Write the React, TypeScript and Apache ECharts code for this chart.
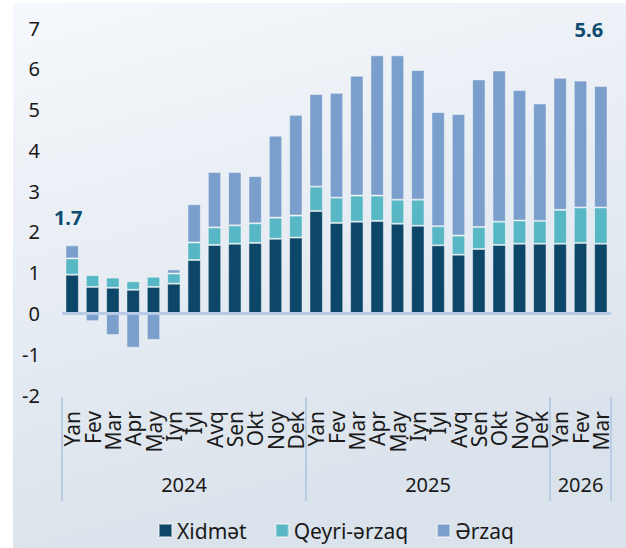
import React, { useEffect, useRef } from "react";
import * as echarts from "echarts";

const months = ["Yan", "Fev", "Mar", "Apr", "May", "İyn", "İyl", "Avq", "Sen", "Okt", "Noy", "Dek"];
const years = ["2024", "2025", "2026"];
const categories: string[] = [
  ...months.map((m) => "2024-" + m),
  ...months.map((m) => "2025-" + m),
  ...months.slice(0, 3).map((m) => "2026-" + m),
];
const xidmet = [0.95, 0.65, 0.63, 0.58, 0.65, 0.73, 1.31, 1.68, 1.71, 1.73, 1.83, 1.86, 2.51, 2.22, 2.25, 2.27, 2.2, 2.15, 1.67, 1.44, 1.58, 1.68, 1.71, 1.71, 1.71, 1.73, 1.71];
const qeyriErzaq = [0.4, 0.29, 0.25, 0.21, 0.25, 0.25, 0.43, 0.43, 0.45, 0.48, 0.52, 0.54, 0.6, 0.62, 0.64, 0.62, 0.59, 0.64, 0.47, 0.47, 0.54, 0.57, 0.57, 0.56, 0.83, 0.87, 0.89];
const erzaq = [0.32, -0.19, -0.53, -0.84, -0.65, 0.1, 0.94, 1.36, 1.31, 1.16, 2.01, 2.47, 2.27, 2.57, 2.94, 3.44, 3.54, 3.18, 2.8, 2.98, 3.62, 3.71, 3.2, 2.88, 3.24, 3.11, 2.98];
const yTicks = { min: -2, max: 7, interval: 1 };

const FONT = "Noto Sans";
const total = (i: number) => (xidmet[i] + qeyriErzaq[i] + erzaq[i]).toFixed(1);

export default function App() {
  const ref = useRef<HTMLDivElement>(null);
  useEffect(() => {
    const chart = echarts.init(ref.current!, undefined, { renderer: "svg" });
    const last = categories.length - 1;
    const border = { borderColor: "rgba(255,255,255,0.45)", borderWidth: 1 };
    chart.setOption({
      animation: false,
      backgroundColor: {
        type: "linear", x: 0, y: 0, x2: 0.3, y2: 1,
        colorStops: [
          { offset: 0, color: "#f5f8fc" },
          { offset: 1, color: "#dae2eb" },
        ],
      },
      textStyle: { fontFamily: FONT },
      grid: { left: 49, right: 15, top: 25, bottom: 153 },
      legend: {
        left: 140,
        top: 512,
        itemWidth: 13,
        itemHeight: 13,
        itemGap: 28,
        icon: "rect",
        textStyle: { fontSize: 21, color: "#1a1a1a", fontFamily: FONT },
        data: ["Xidmət", "Qeyri-ərzaq", "Ərzaq"],
      },
      xAxis: [
        {
          type: "category",
          data: categories,
          position: "bottom",
          axisLine: { show: false, onZero: false },
          axisTick: { show: false },
          axisLabel: {
            interval: 0,
            rotate: 90,
            margin: 16,
            fontSize: 21,
            color: "#1a1a1a",
            fontFamily: FONT,
            formatter: (v: string) => v.split("-")[1],
          },
        },
        {
          type: "category",
          data: categories,
          position: "bottom",
          offset: 2,
          axisLine: { show: false, onZero: false },
          axisLabel: { show: false },
          axisTick: {
            show: true,
            length: 104,
            interval: (i: number) => i === 0 || i === 12 || i === 24,
            lineStyle: { color: "#b9cce4", width: 2 },
          },
        },
      ],
      yAxis: {
        type: "value",
        min: yTicks.min,
        max: yTicks.max,
        interval: yTicks.interval,
        splitLine: { show: false },
        axisLine: { show: false },
        axisTick: { show: false },
        axisLabel: { fontSize: 20, color: "#1a1a1a", margin: 22, fontFamily: FONT },
      },
      series: [
        {
          name: "Xidmət",
          type: "bar",
          stack: "t",
          data: xidmet,
          barWidth: "66%",
          itemStyle: { color: "#0c4669", ...border },
          markLine: {
            silent: true,
            symbol: ["none", "none"],
            label: { show: false },
            lineStyle: { color: "#b6c9e5", width: 3, type: "solid" },
            data: [{ yAxis: 0 }],
          },
        },
        {
          name: "Qeyri-ərzaq",
          type: "bar",
          stack: "t",
          data: qeyriErzaq,
          itemStyle: { color: "#58b7c5", ...border },
        },
        {
          name: "Ərzaq",
          type: "bar",
          stack: "t",
          data: erzaq,
          itemStyle: { color: "#7b9fcc", ...border },
          markPoint: {
            symbolSize: 0,
            label: {
              show: true,
              position: "inside",
              fontSize: 20,
              fontWeight: "bold",
              color: "#0d4a6e",
              fontFamily: FONT,
              formatter: (p: any) => p.value,
            },
            data: [
              { coord: [0, 2.36], value: total(0), label: { offset: [-4, 0] } },
              { coord: [last, 6.97], value: total(last), label: { offset: [-12, 0] } },
            ],
          },
        },
      ],
    });
    const xs = (i: number) => chart.convertToPixel({ xAxisIndex: 0 }, i) as number;
    const groups = [
      [0, 11],
      [12, 23],
      [24, last],
    ];
    const yBottom = chart.convertToPixel({ yAxisIndex: 0 }, yTicks.min) as number;
    chart.setOption({
      graphic: groups.map((g, k) => ({
        type: "text",
        x: (xs(g[0]) + xs(g[1])) / 2,
        y: yBottom + 89,
        style: {
          text: years[k],
          fontSize: 20,
          fontFamily: FONT,
          fill: "#1a1a1a",
          textAlign: "center",
          textVerticalAlign: "middle",
        },
      })),
    });
    return () => chart.dispose();
  }, []);
  return (
    <div
      ref={ref}
      style={{ position: "absolute", left: 13, top: 3, width: 613, height: 545 }}
    />
  );
}
